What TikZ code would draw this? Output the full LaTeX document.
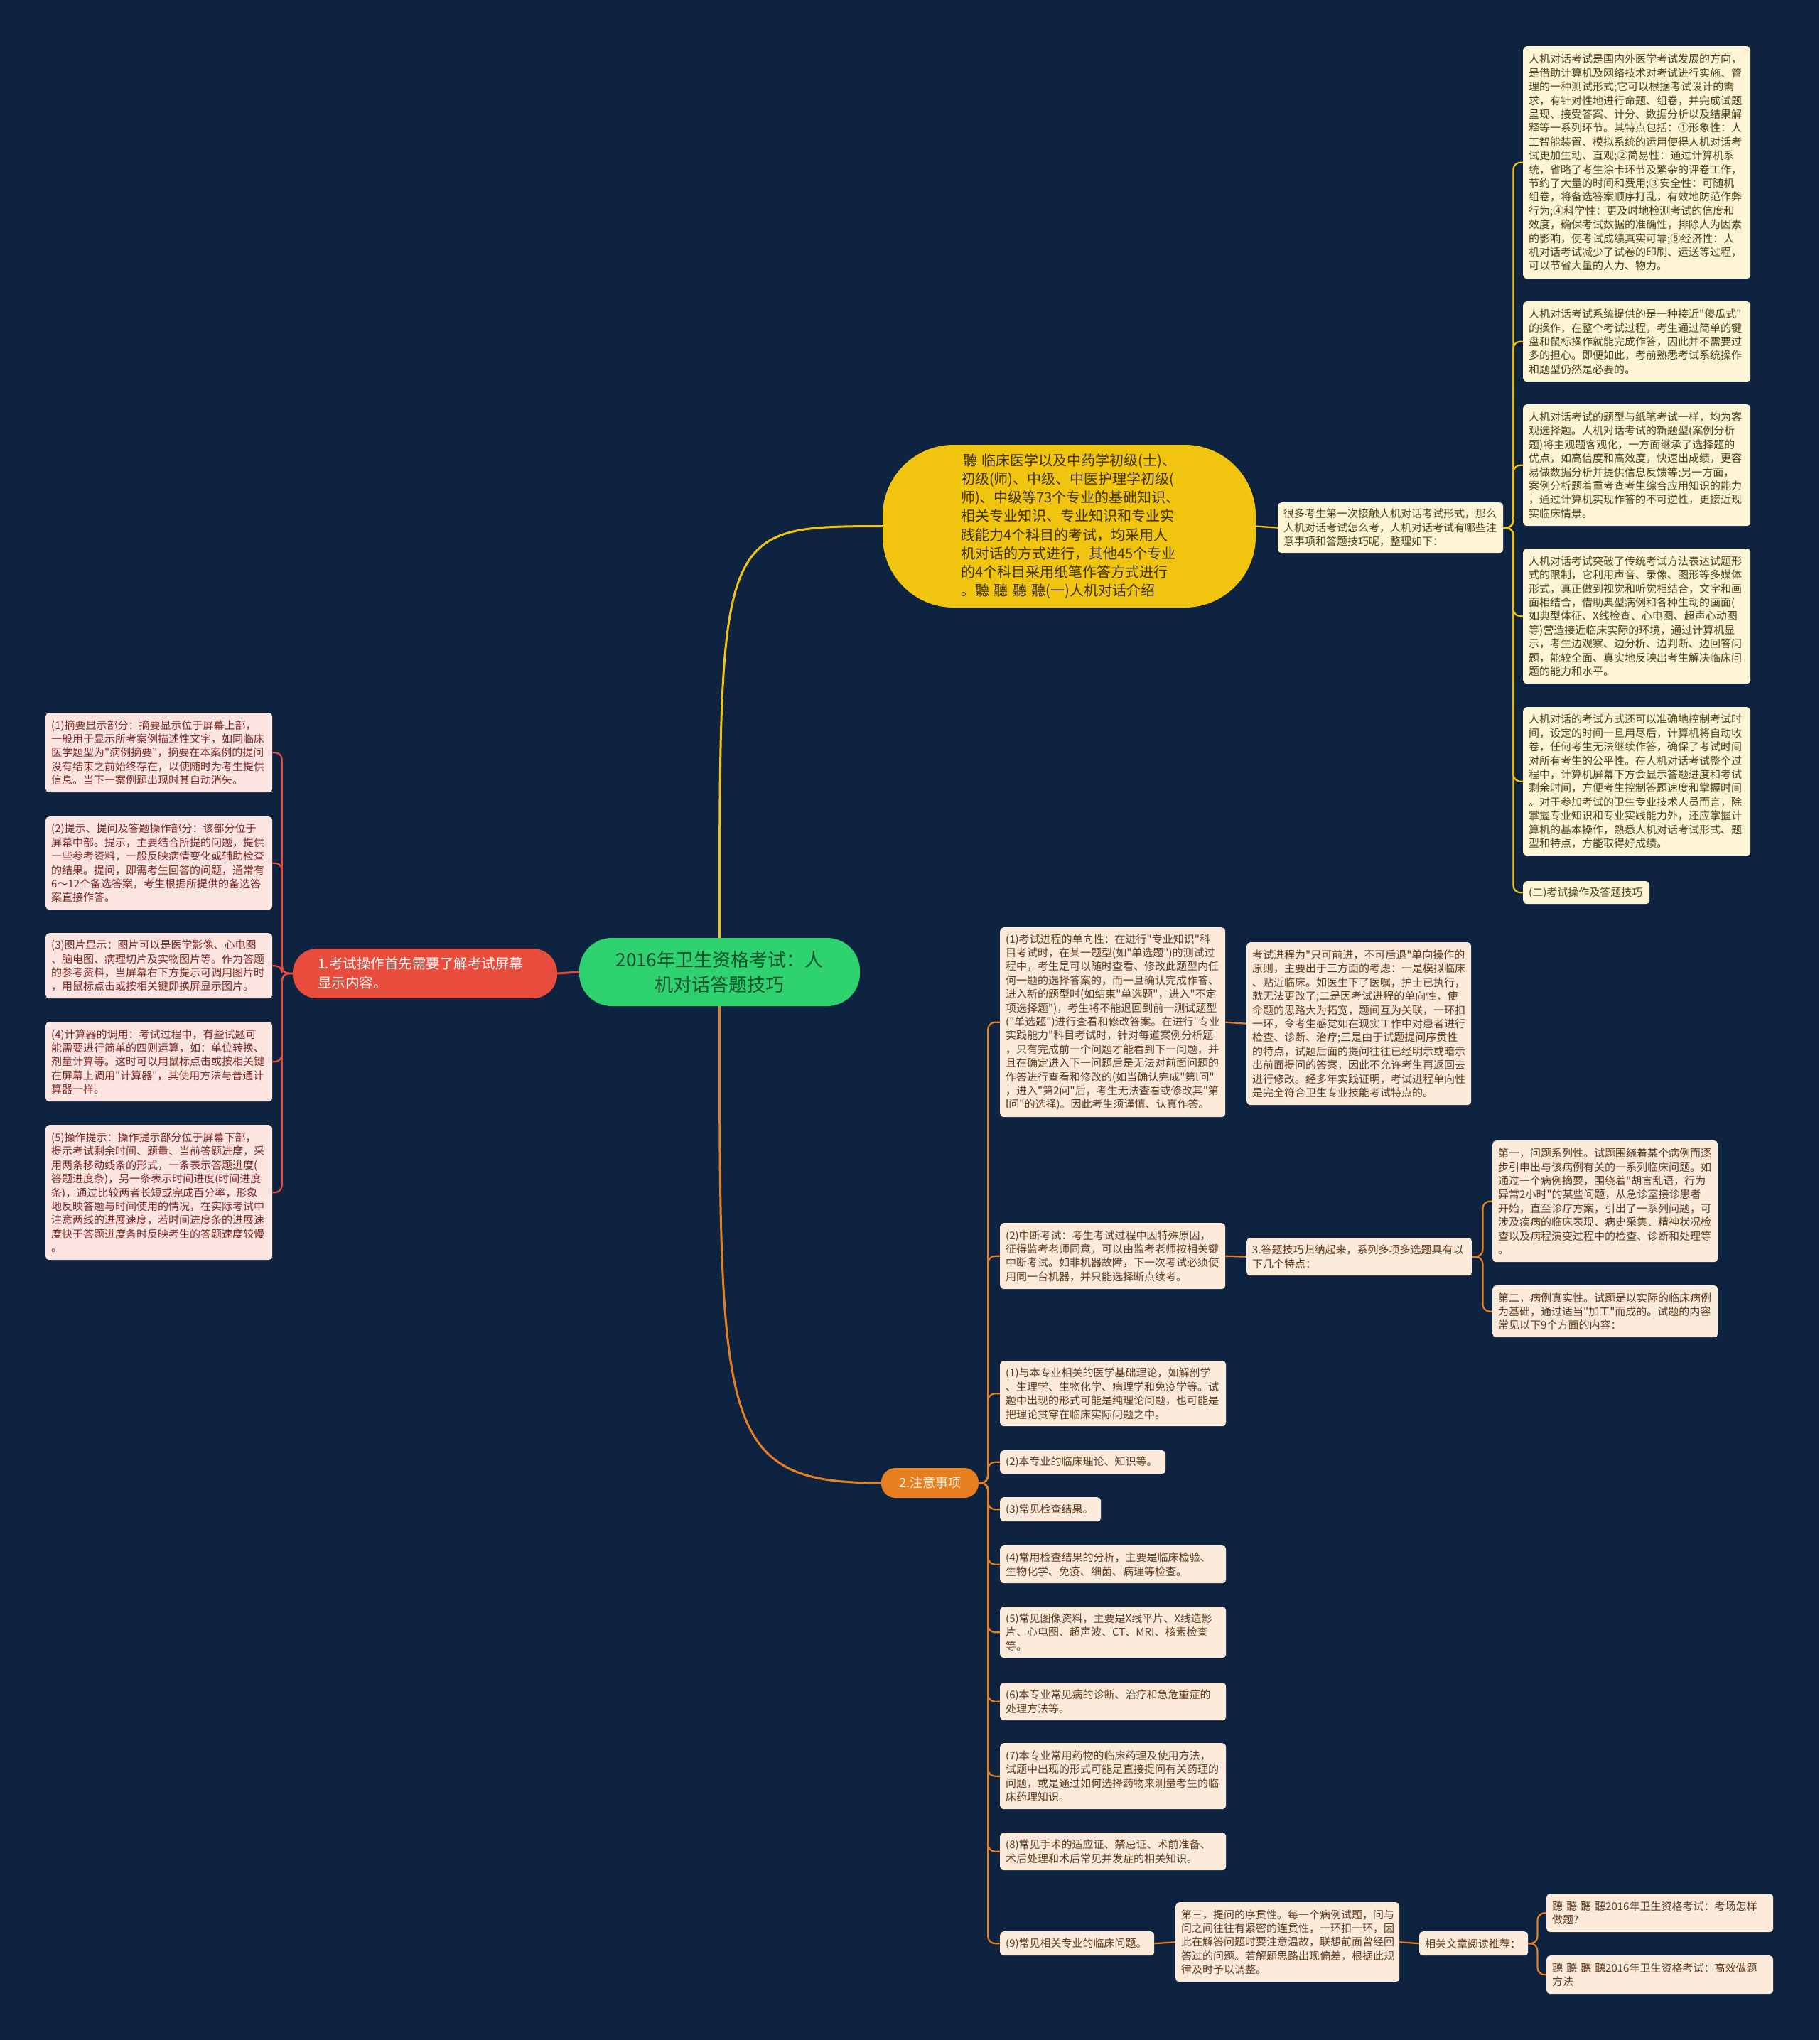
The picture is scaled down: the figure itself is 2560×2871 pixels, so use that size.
\documentclass[tikz,border=0pt]{standalone}
\usepackage{fontspec}
\setmainfont{Noto Sans CJK SC}[Ligatures=TeXOff]
\definecolor{bg}{RGB}{14,35,64}
\definecolor{ylw}{RGB}{241,196,15}
\definecolor{ytext}{RGB}{60,48,5}
\definecolor{grn}{RGB}{46,211,112}
\definecolor{gtext}{RGB}{22,80,45}
\definecolor{rd}{RGB}{231,76,60}
\definecolor{org}{RGB}{230,126,34}
\definecolor{otext}{RGB}{255,244,225}
\definecolor{pinkf}{RGB}{252,228,225}
\definecolor{pinkt}{RGB}{120,40,34}
\definecolor{creamf}{RGB}{253,245,214}
\definecolor{creamt}{RGB}{78,62,18}
\definecolor{peachf}{RGB}{252,234,218}
\definecolor{peacht}{RGB}{92,58,28}
\tikzset{
  base/.style={rounded corners=5pt, inner xsep=8pt, inner ysep=3pt, align=left, font=\fontsize{15}{19.4}\selectfont},
  pk/.style={base, fill=pinkf, text=pinkt},
  cr/.style={base, fill=creamf, text=creamt},
  pe/.style={base, fill=peachf, text=peacht},
  bx/.code n args={4}{\pgfmathsetmacro\bxw{#3-16}\edef\bxtmp{\noexpand\tikzset{at={(#1,#2)},anchor=north west,minimum width=#3pt,minimum height=#4pt,text width=\bxw pt}}\bxtmp},
  ybr/.style={draw=ylw, line width=2.2pt, rounded corners=10pt},
  rbr/.style={draw=rd, line width=2.2pt, rounded corners=10pt},
  obr/.style={draw=org, line width=2.2pt, rounded corners=10pt},
}
\begin{document}
\begin{tikzpicture}[x=1pt,y=-1pt]
\fill[bg] (0,0) rectangle (2560,2871);
\useasboundingbox (0,0) rectangle (2560,2871);

% main nodes
\node[fill=grn, rounded corners=46pt, minimum width=395pt, minimum height=96pt, text=gtext, align=center, font=\fontsize{26}{35}\selectfont, inner sep=0pt] (g) at (1012.5,1368) {2016年卫生资格考试：人\\机对话答题技巧};

\node[fill=rd, rounded corners=34pt, minimum width=372pt, minimum height=70pt, text=white, align=left, text width=302pt, inner xsep=35pt, inner ysep=0pt, font=\fontsize{19.5}{27}\selectfont] (r) at (598,1370) {1.考试操作首先需要了解考试屏幕\\显示内容。};

\node[fill=ylw, rounded corners=100pt, minimum width=525pt, minimum height=229pt, text width=305pt, align=left, text=ytext, font=\fontsize{20}{26.2}\selectfont, inner sep=0pt] (yl) at (1504.5,740.5) {\hspace*{3pt}聽 临床医学以及中药学初级(士)、\\初级(师)、中级、中医护理学初级(\\师)、中级等73个专业的基础知识、\\相关专业知识、专业知识和专业实\\践能力4个科目的考试，均采用人\\机对话的方式进行，其他45个专业\\的4个科目采用纸笔作答方式进行\\。聽 聽 聽 聽(一)人机对话介绍};

\node[fill=org, rounded corners=20pt, minimum width=137pt, minimum height=42pt, text=otext, font=\fontsize{18}{22}\selectfont, inner sep=0pt] (n2) at (1308.5,2087) {2.注意事项};

% yellow branch
\node[cr, bx={1798}{707}{317}{71}] (q) {很多考生第一次接触人机对话考试形式，那么\\人机对话考试怎么考，人机对话考试有哪些注\\意事项和答题技巧呢，整理如下：};
\node[cr, bx={2143}{65}{320}{327}] (r1) {人机对话考试是国内外医学考试发展的方向，\\是借助计算机及网络技术对考试进行实施、管\\理的一种测试形式;它可以根据考试设计的需\\求，有针对性地进行命题、组卷，并完成试题\\呈现、接受答案、计分、数据分析以及结果解\\释等一系列环节。其特点包括：①形象性：人\\工智能装置、模拟系统的运用使得人机对话考\\试更加生动、直观;②简易性：通过计算机系\\统，省略了考生涂卡环节及繁杂的评卷工作，\\节约了大量的时间和费用;③安全性：可随机\\组卷，将备选答案顺序打乱，有效地防范作弊\\行为;④科学性：更及时地检测考试的信度和\\效度，确保考试数据的准确性，排除人为因素\\的影响，使考试成绩真实可靠;⑤经济性：人\\机对话考试减少了试卷的印刷、运送等过程，\\可以节省大量的人力、物力。};
\node[cr, bx={2143}{424}{320}{113}] (r2) {人机对话考试系统提供的是一种接近"傻瓜式"\\的操作，在整个考试过程，考生通过简单的键\\盘和鼠标操作就能完成作答，因此并不需要过\\多的担心。即便如此，考前熟悉考试系统操作\\和题型仍然是必要的。};
\node[cr, bx={2143}{569}{320}{171}] (r3) {人机对话考试的题型与纸笔考试一样，均为客\\观选择题。人机对话考试的新题型(案例分析\\题)将主观题客观化，一方面继承了选择题的\\优点，如高信度和高效度，快速出成绩，更容\\易做数据分析并提供信息反馈等;另一方面，\\案例分析题着重考查考生综合应用知识的能力\\，通过计算机实现作答的不可逆性，更接近现\\实临床情景。};
\node[cr, bx={2143}{772}{320}{190}] (r4) {人机对话考试突破了传统考试方法表达试题形\\式的限制，它利用声音、录像、图形等多媒体\\形式，真正做到视觉和听觉相结合，文字和画\\面相结合，借助典型病例和各种生动的画面(\\如典型体征、X线检查、心电图、超声心动图\\等)营造接近临床实际的环境，通过计算机显\\示，考生边观察、边分析、边判断、边回答问\\题，能较全面、真实地反映出考生解决临床问\\题的能力和水平。};
\node[cr, bx={2143}{995}{320}{209}] (r5) {人机对话的考试方式还可以准确地控制考试时\\间，设定的时间一旦用尽后，计算机将自动收\\卷，任何考生无法继续作答，确保了考试时间\\对所有考生的公平性。在人机对话考试整个过\\程中，计算机屏幕下方会显示答题进度和考试\\剩余时间，方便考生控制答题速度和掌握时间\\。对于参加考试的卫生专业技术人员而言，除\\掌握专业知识和专业实践能力外，还应掌握计\\算机的基本操作，熟悉人机对话考试形式、题\\型和特点，方能取得好成绩。};
\node[cr, bx={2143}{1240}{178}{32}] (r6) {(二)考试操作及答题技巧};

% red branch
\node[pk, bx={64}{1003}{319}{112}] (p1) {(1)摘要显示部分：摘要显示位于屏幕上部，\\一般用于显示所考案例描述性文字，如同临床\\医学题型为"病例摘要"，摘要在本案例的提问\\没有结束之前始终存在，以使随时为考生提供\\信息。当下一案例题出现时其自动消失。};
\node[pk, bx={64}{1149}{319}{131}] (p2) {(2)提示、提问及答题操作部分：该部分位于\\屏幕中部。提示，主要结合所提的问题，提供\\一些参考资料，一般反映病情变化或辅助检查\\的结果。提问，即需考生回答的问题，通常有\\6～12个备选答案，考生根据所提供的备选答\\案直接作答。};
\node[pk, bx={64}{1313}{319}{92}] (p3) {(3)图片显示：图片可以是医学影像、心电图\\、脑电图、病理切片及实物图片等。作为答题\\的参考资料，当屏幕右下方提示可调用图片时\\，用鼠标点击或按相关键即换屏显示图片。};
\node[pk, bx={64}{1438}{319}{112}] (p4) {(4)计算器的调用：考试过程中，有些试题可\\能需要进行简单的四则运算，如：单位转换、\\剂量计算等。这时可以用鼠标点击或按相关键\\在屏幕上调用"计算器"，其使用方法与普通计\\算器一样。};
\node[pk, bx={64}{1583}{319}{190}] (p5) {(5)操作提示：操作提示部分位于屏幕下部，\\提示考试剩余时间、题量、当前答题进度，采\\用两条移动线条的形式，一条表示答题进度(\\答题进度条)，另一条表示时间进度(时间进度\\条)，通过比较两者长短或完成百分率，形象\\地反映答题与时间使用的情况，在实际考试中\\注意两线的进展速度，若时间进度条的进展速\\度快于答题进度条时反映考生的答题速度较慢\\。};

% orange branch
\node[pe, bx={1407}{1305}{317}{267}] (m1) {(1)考试进程的单向性：在进行"专业知识"科\\目考试时，在某一题型(如"单选题")的测试过\\程中，考生是可以随时查看、修改此题型内任\\何一题的选择答案的，而一旦确认完成作答、\\进入新的题型时(如结束"单选题"，进入"不定\\项选择题")，考生将不能退回到前一测试题型\\("单选题")进行查看和修改答案。在进行"专业\\实践能力"科目考试时，针对每道案例分析题\\，只有完成前一个问题才能看到下一问题，并\\且在确定进入下一问题后是无法对前面问题的\\作答进行查看和修改的(如当确认完成"第l问"\\，进入"第2问"后，考生无法查看或修改其"第\\l问"的选择)。因此考生须谨慎、认真作答。};
\node[pe, bx={1754}{1326}{316}{229}] (m1b) {考试进程为"只可前进，不可后退"单向操作的\\原则，主要出于三方面的考虑：一是模拟临床\\、贴近临床。如医生下了医嘱，护士已执行，\\就无法更改了;二是因考试进程的单向性，使\\命题的思路大为拓宽，题间互为关联，一环扣\\一环，令考生感觉如在现实工作中对患者进行\\检查、诊断、治疗;三是由于试题提问序贯性\\的特点，试题后面的提问往往已经明示或暗示\\出前面提问的答案，因此不允许考生再返回去\\进行修改。经多年实践证明，考试进程单向性\\是完全符合卫生专业技能考试特点的。};
\node[pe, bx={1407}{1721}{317}{93}] (m2) {(2)中断考试：考生考试过程中因特殊原因，\\征得监考老师同意，可以由监考老师按相关键\\中断考试。如非机器故障，下一次考试必须使\\用同一台机器，并只能选择断点续考。};
\node[pe, bx={1754}{1742}{317}{53}] (m2b) {3.答题技巧归纳起来，系列多项多选题具有以\\下几个特点：};
\node[pe, bx={2100}{1605}{317}{171}] (m3a) {第一，问题系列性。试题围绕着某个病例而逐\\步引申出与该病例有关的一系列临床问题。如\\通过一个病例摘要，围绕着"胡言乱语，行为\\异常2小时"的某些问题，从急诊室接诊患者\\开始，直至诊疗方案，引出了一系列问题，可\\涉及疾病的临床表现、病史采集、精神状况检\\查以及病程演变过程中的检查、诊断和处理等\\。};
\node[pe, bx={2100}{1809}{317}{73}] (m3b) {第二，病例真实性。试题是以实际的临床病例\\为基础，通过适当"加工"而成的。试题的内容\\常见以下9个方面的内容：};
\node[pe, bx={1407}{1915}{318}{92}] (l1) {(1)与本专业相关的医学基础理论，如解剖学\\、生理学、生物化学、病理学和免疫学等。试\\题中出现的形式可能是纯理论问题，也可能是\\把理论贯穿在临床实际问题之中。};
\node[pe, bx={1407}{2041}{233}{33}] (l2) {(2)本专业的临床理论、知识等。};
\node[pe, bx={1407}{2107}{142}{34}] (l3) {(3)常见检查结果。};
\node[pe, bx={1407}{2175}{318}{53}] (l4) {(4)常用检查结果的分析，主要是临床检验、\\生物化学、免疫、细菌、病理等检查。};
\node[pe, bx={1407}{2261}{318}{72}] (l5) {(5)常见图像资料，主要是X线平片、X线造影\\片、心电图、超声波、CT、MRI、核素检查\\等。};
\node[pe, bx={1407}{2368}{318}{53}] (l6) {(6)本专业常见病的诊断、治疗和急危重症的\\处理方法等。};
\node[pe, bx={1407}{2453}{318}{93}] (l7) {(7)本专业常用药物的临床药理及使用方法，\\试题中出现的形式可能是直接提问有关药理的\\问题，或是通过如何选择药物来测量考生的临\\床药理知识。};
\node[pe, bx={1407}{2579}{318}{53}] (l8) {(8)常见手术的适应证、禁忌证、术前准备、\\术后处理和术后常见并发症的相关知识。};
\node[pe, bx={1407}{2718}{217}{34}] (l9) {(9)常见相关专业的临床问题。};
\node[pe, bx={1654}{2677}{315}{112}] (l9b) {第三，提问的序贯性。每一个病例试题，问与\\问之间往往有紧密的连贯性，一环扣一环，因\\此在解答问题时要注意温故，联想前面曾经回\\答过的问题。若解题思路出现偏差，根据此规\\律及时予以调整。};
\node[pe, bx={1997}{2718}{153}{34}] (l9c) {相关文章阅读推荐：};
\node[pe, bx={2176}{2665}{319}{54}] (l9d1) {聽 聽 聽 聽2016年卫生资格考试：考场怎样\\做题?};
\node[pe, bx={2176}{2752}{319}{54}] (l9d2) {聽 聽 聽 聽2016年卫生资格考试：高效做题\\方法};

% main connectors
\draw[rd, line width=3pt] (g.west) -- (r.east);
\draw[ylw, line width=3pt] (g.north) .. controls (1012.5,741) and (1012.5,741) .. (yl.west);
\draw[org, line width=3pt] (g.south) .. controls (1012.5,2010) and (1012.5,2087) .. (n2.west);
\draw[ylw, line width=2.2pt] (yl.east) -- (q.west);

% brackets
\foreach \c in {r1,r2,r3,r4,r5,r6} \draw[ybr] (q.east) -- ++(14,0) |- (\c.west);
\foreach \c in {p1,p2,p3,p4,p5} \draw[rbr] (r.west) -- ++(-15,0) |- (\c.east);
\foreach \c in {m1,m2,l1,l2,l3,l4,l5,l6,l7,l8,l9} \draw[obr] (n2.east) -- ++(13,0) |- (\c.west);
\foreach \c in {m3a,m3b} \draw[obr] (m2b.east) -- ++(15,0) |- (\c.west);
\foreach \c in {l9d1,l9d2} \draw[obr] (l9c.east) -- ++(13,0) |- (\c.west);
\draw[org, line width=2.2pt] (m1.east) -- (m1b.west);
\draw[org, line width=2.2pt] (m2.east) -- (m2b.west);
\draw[org, line width=2.2pt] (l9.east) -- (l9b.west);
\draw[org, line width=2.2pt] (l9b.east) -- (l9c.west);
\end{tikzpicture}
\end{document}
